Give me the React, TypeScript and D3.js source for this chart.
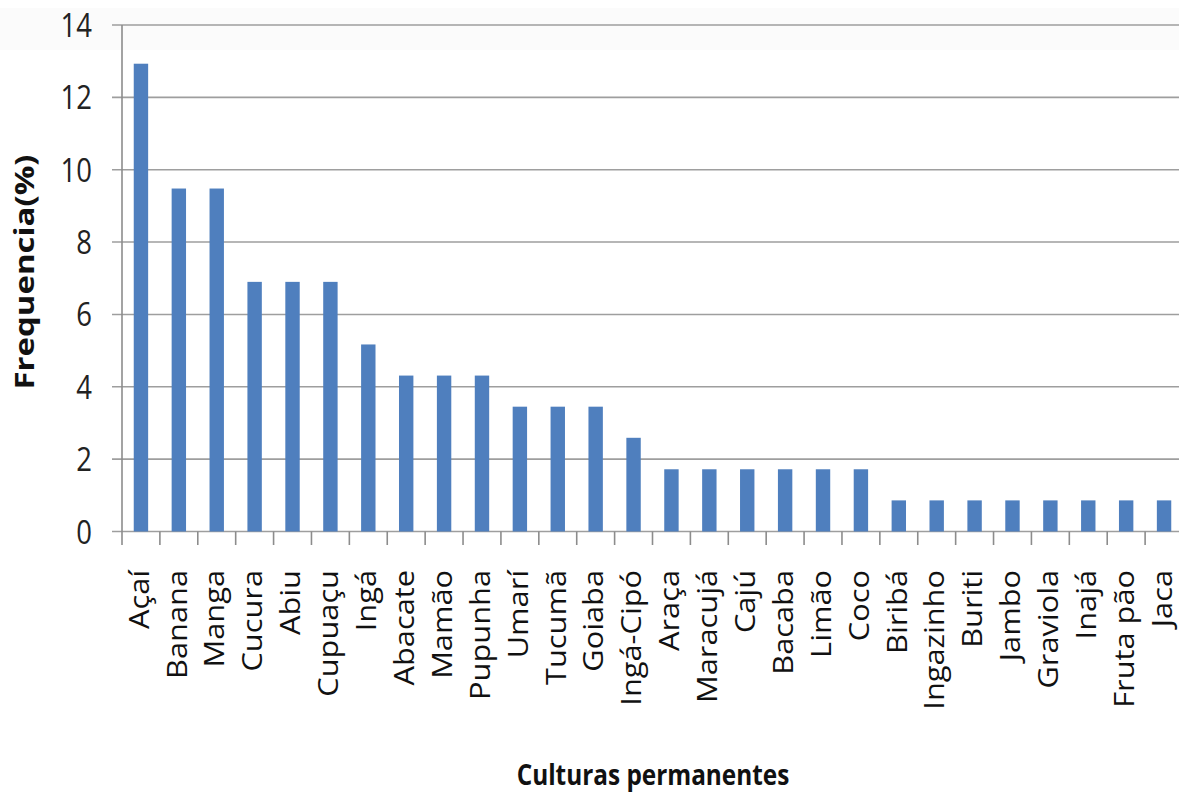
import React from "react";
import * as d3 from "d3";

// Culturas permanentes citadas (n = 116 citações)
const categories: string[] = [
  "Açaí", "Banana", "Manga", "Cucura", "Abiu", "Cupuaçu", "Ingá", "Abacate",
  "Mamão", "Pupunha", "Umarí", "Tucumã", "Goiaba", "Ingá-Cipó", "Araça",
  "Maracujá", "Cajú", "Bacaba", "Limão", "Coco", "Biribá", "Ingazinho",
  "Buriti", "Jambo", "Graviola", "Inajá", "Fruta pão", "Jaca",
];
const frequencies: number[] = [
  12.93, 9.48, 9.48, 6.9, 6.9, 6.9, 5.17, 4.31, 4.31, 4.31, 3.45, 3.45, 3.45,
  2.59, 1.72, 1.72, 1.72, 1.72, 1.72, 1.72, 0.86, 0.86, 0.86, 0.86, 0.86, 0.86,
  0.86, 0.86,
];
const yTicks: number[] = [0, 2, 4, 6, 8, 10, 12, 14];
const yTitle = "Frequencia(%)";
const xTitle = "Culturas permanentes";

const W = 1179;
const H = 796;
const left = 122;
const right = 1183;
const top = 25;
const bottom = 531.5;

const font = "'Open Sans', 'DejaVu Sans', sans-serif";

export default function App() {
  const x = d3.scaleBand<string>().domain(categories).range([left, right]).padding(0);
  const y = d3.scaleLinear().domain([0, 14]).range([bottom, top]);
  const step = x.step();
  const barW = step * 0.38;
  const boundaries = d3.range(1, categories.length).map((i) => left + i * step);

  return (
    <svg
      width={W}
      height={H}
      style={{ position: "absolute", left: 0, top: 0, display: "block", background: "#fff" }}
    >
      <rect x={0} y={8} width={W} height={42} fill="#fbfbfb" />
      {/* gridlines and y ticks */}
      {yTicks.map((t) => (
        <g key={t}>
          <line x1={112} x2={W} y1={y(t)} y2={y(t)} stroke="#9e9e9e" strokeWidth={1.6} />
          <text
            transform={`translate(92, ${y(t)}) scale(0.82, 1)`}
            textAnchor="end"
            dy="0.36em"
            fontFamily={font}
            fontSize={33.5}
            fill="#222"
          >
            {t}
          </text>
        </g>
      ))}
      {/* y axis */}
      <line x1={left} x2={left} y1={top} y2={545} stroke="#8c8c8c" strokeWidth={1.6} />
      {/* category tick marks */}
      {boundaries.map((b, i) => (
        <line key={i} x1={b} x2={b} y1={bottom} y2={545} stroke="#8c8c8c" strokeWidth={1.6} />
      ))}
      {/* bars */}
      {categories.map((c, i) => {
        const cx = (x(c) as number) + step / 2;
        return (
          <rect
            key={c}
            x={cx - barW / 2}
            y={y(frequencies[i])}
            width={barW}
            height={bottom - y(frequencies[i])}
            fill="#4f7fbe"
          />
        );
      })}
      {/* category labels */}
      {categories.map((c) => {
        const cx = (x(c) as number) + step / 2;
        return (
          <text
            key={c}
            transform={`translate(${cx - 2}, 570) rotate(-90) scale(1.14, 1)`}
            textAnchor="end"
            dy="0.36em"
            fontFamily={font}
            fontSize={27}
            fill="#111"
          >
            {c}
          </text>
        );
      })}
      {/* axis titles */}
      <text
        transform={`translate(24, 272) rotate(-90) scale(1.22, 1)`}
        textAnchor="middle"
        dy="0.36em"
        fontFamily={font}
        fontWeight="bold"
        fontSize={27}
        fill="#111"
      >
        {yTitle}
      </text>
      <text
        transform={`translate(653, 785) scale(0.87, 1)`}
        textAnchor="middle"
        fontFamily={font}
        fontWeight="bold"
        fontSize={28}
        fill="#111"
      >
        {xTitle}
      </text>
    </svg>
  );
}
